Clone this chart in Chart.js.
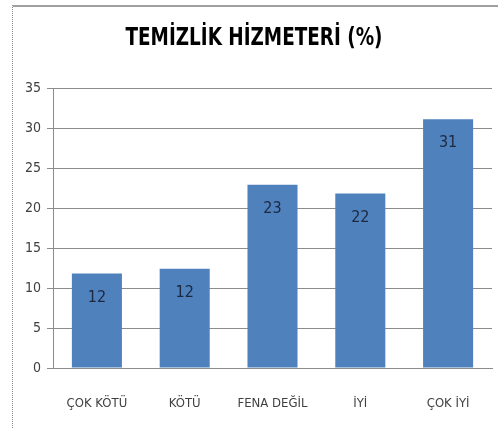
<!DOCTYPE html>
<html>
<head>
<meta charset="utf-8">
<script src="https://cdn.jsdelivr.net/npm/chart.js@4"></script>
<style>
  html, body { margin: 0; padding: 0; background: #fff; }
  #wrap { position: relative; width: 498px; height: 428px; }
  #frame {
    position: absolute; left: 12px; top: 5px; right: 0; bottom: 0;
    border-top: 2px solid #a0a0a0; border-left: 1px dotted #8a8a8a;
    pointer-events: none;
  }
</style>
</head>
<body>
<div id="wrap">
  <canvas id="chart" width="498" height="428"></canvas>
  <div id="frame"></div>
</div>
<script>
// Temizlik hizmetleri anketi, yüzde dağılım
const categories = ['ÇOK KÖTÜ', 'KÖTÜ', 'FENA DEĞİL', 'İYİ', 'ÇOK İYİ'];
const percentages = [11.8, 12.4, 22.9, 21.8, 31.1];
const yTicks = [0, 5, 10, 15, 20, 25, 30, 35];
const chartTitle = 'TEMİZLİK HİZMETERİ (%)';

const FONT = '"DejaVu Sans Condensed", "DejaVu Sans", sans-serif';
const TEXT = '#404040';
const GRID = '#8c8c8c';

// heading drawn narrow and heavy, like a condensed office font
const condensedTitle = {
  id: 'condensedTitle',
  afterDraw(chart) {
    const ctx = chart.ctx;
    ctx.save();
    ctx.font = 'bold 24px ' + FONT;
    ctx.fillStyle = '#000';
    ctx.textAlign = 'center';
    ctx.textBaseline = 'middle';
    const w = ctx.measureText(chartTitle).width;
    const sx = Math.min(1, 257 / w);
    ctx.translate(254, 39);
    ctx.scale(sx, 1);
    ctx.fillText(chartTitle, 0, 0);
    ctx.restore();
  }
};

// values printed inside the top of each bar
const barValueLabels = {
  id: 'barValueLabels',
  afterDatasetsDraw(chart) {
    const ctx = chart.ctx;
    const meta = chart.getDatasetMeta(0);
    ctx.save();
    ctx.font = '16px ' + FONT;
    ctx.fillStyle = '#1c2840';
    ctx.textAlign = 'center';
    ctx.textBaseline = 'middle';
    meta.data.forEach((bar, i) => {
      ctx.fillText(String(Math.round(percentages[i])), bar.x, bar.y + 24);
    });
    ctx.restore();
  }
};

new Chart(document.getElementById('chart'), {
  type: 'bar',
  data: {
    labels: categories,
    datasets: [{
      data: percentages,
      backgroundColor: '#4f81bd',
      borderWidth: 0,
      categoryPercentage: 1,
      barPercentage: 0.57
    }]
  },
  options: {
    responsive: false,
    animation: false,
    layout: { padding: { left: 14, right: 5, top: 88, bottom: 0 } },
    plugins: {
      legend: { display: false },
      tooltip: { enabled: false },
      title: { display: false }
    },
    scales: {
      x: {
        grid: { display: false, drawTicks: false },
        border: { display: true, color: GRID, width: 1 },
        ticks: { color: TEXT, font: { family: FONT, size: 13 }, padding: 28, maxRotation: 0 },
        afterFit(scale) { scale.height = 60; }
      },
      y: {
        min: 0, max: 35,
        afterBuildTicks(scale) { scale.ticks = yTicks.map(v => ({ value: v })); },
        grid: { color: GRID, lineWidth: 1, tickLength: 6, drawTicks: true },
        border: { display: true, color: GRID },
        ticks: { color: TEXT, font: { family: FONT, size: 14 }, padding: 6 },
        afterFit(scale) { scale.width = 39; }
      }
    }
  },
  plugins: [barValueLabels, condensedTitle]
});
</script>
</body>
</html>
